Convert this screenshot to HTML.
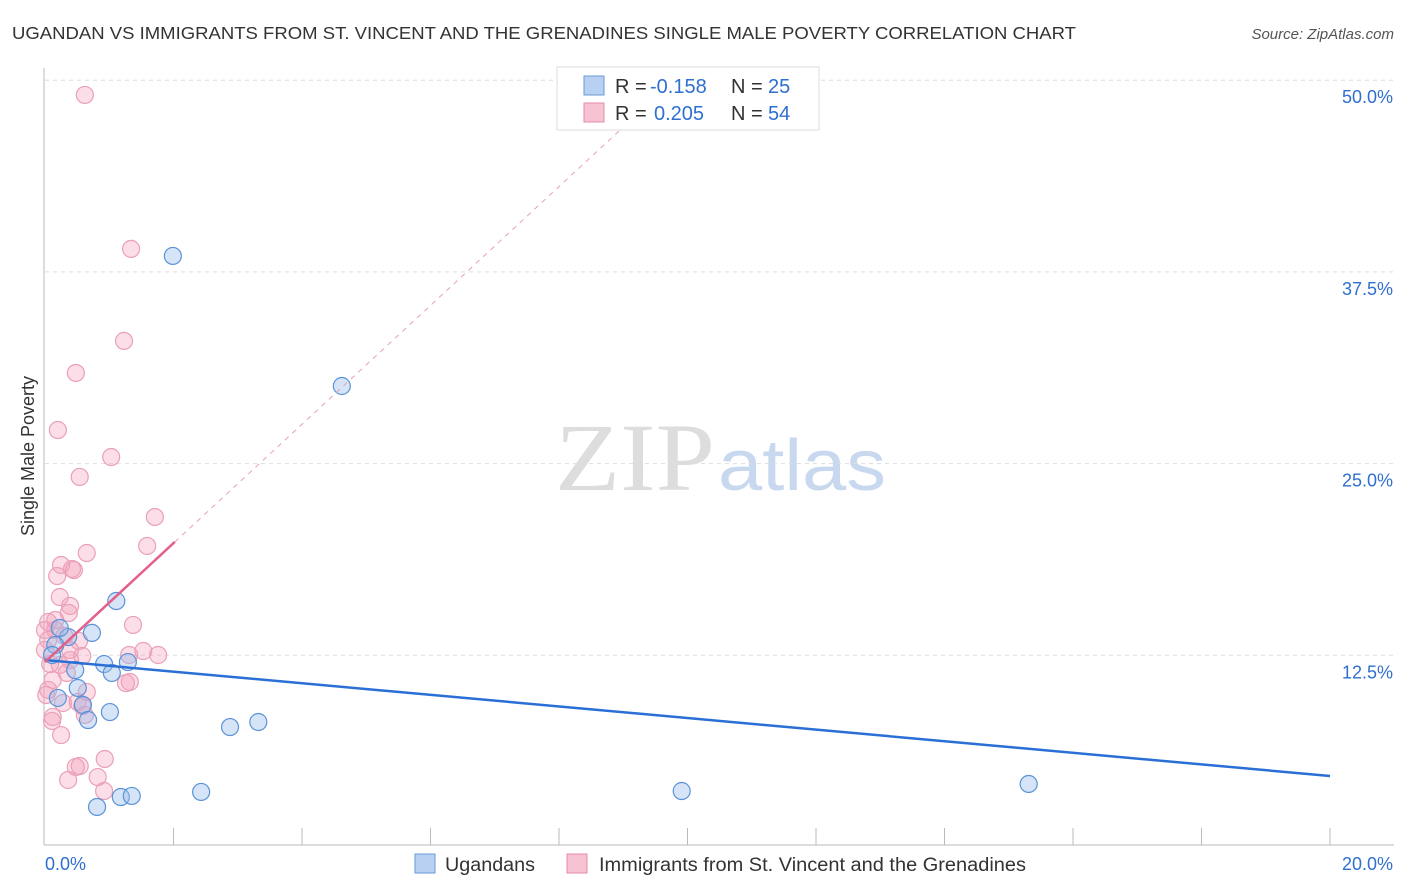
<!DOCTYPE html>
<html><head><meta charset="utf-8"><style>
body{margin:0;background:#fff;font-family:"Liberation Sans",sans-serif}
svg{display:block}
</style></head><body>
<svg id="c" width="1406" height="892" xmlns="http://www.w3.org/2000/svg">
<text x="12" y="39" font-size="17.5" fill="#333" textLength="1064" lengthAdjust="spacingAndGlyphs">UGANDAN VS IMMIGRANTS FROM ST. VINCENT AND THE GRENADINES SINGLE MALE POVERTY CORRELATION CHART</text>
<text x="1394" y="39" font-size="15" fill="#555" font-style="italic" text-anchor="end">Source: ZipAtlas.com</text>
<text x="555" y="490" font-size="96" fill="#ddd" font-family="Liberation Serif,serif" textLength="160" lengthAdjust="spacingAndGlyphs">ZIP</text>
<text x="718" y="490" font-size="72" fill="#c8d8ee" textLength="168" lengthAdjust="spacingAndGlyphs">atlas</text>
<text transform="translate(34,456) rotate(-90)" font-size="18" fill="#333" text-anchor="middle">Single Male Poverty</text>
<g id="grid"></g><g id="marks"></g>
<g>
<rect x="557" y="67" width="262" height="63" fill="#fff" stroke="#ddd"/>
<rect x="584" y="76" width="20" height="19" fill="#b8d0f2" stroke="#6a9ad8"/>
<rect x="584" y="103" width="20" height="19" fill="#f7c3d3" stroke="#e58aa8"/>
<text y="93" font-size="20" fill="#333"><tspan x="615">R =</tspan><tspan x="650" fill="#2f6fd0">-0.158</tspan><tspan x="731">N =</tspan><tspan x="768" fill="#2f6fd0">25</tspan></text>
<text y="120" font-size="20" fill="#333"><tspan x="615">R =</tspan><tspan x="654" fill="#2f6fd0">0.205</tspan><tspan x="731">N =</tspan><tspan x="768" fill="#2f6fd0">54</tspan></text>
</g>
<g>
<rect x="415" y="854" width="20" height="19" fill="#b8d0f2" stroke="#6a9ad8"/>
<text x="445" y="871" font-size="19" fill="#333" textLength="90" lengthAdjust="spacingAndGlyphs">Ugandans</text>
<rect x="567" y="854" width="20" height="19" fill="#f7c3d3" stroke="#e58aa8"/>
<text x="599" y="871" font-size="19" fill="#333" textLength="427" lengthAdjust="spacingAndGlyphs">Immigrants from St. Vincent and the Grenadines</text>
</g>
</svg>
<script>
const yTicks=[12.5,25,37.5,50];
const yTickLabels=["12.5%","25.0%","37.5%","50.0%"];
const xTickLabels=["0.0%","20.0%"];
const blueX=[1.99,4.62,1.11,0.73,0.36,0.16,0.11,0.92,1.29,1.04,0.47,0.51,0.20,0.59,1.01,0.67,2.88,3.32,0.81,1.18,1.35,2.43,9.91,15.31,0.23];
const blueY=[38.54,30.06,16.04,13.96,13.69,13.17,12.52,11.93,12.06,11.35,11.54,10.37,9.72,9.26,8.80,8.28,7.82,8.15,2.61,3.26,3.33,3.59,3.65,4.11,14.28];
const pinkX=[0.62,1.34,1.23,0.48,0.20,0.54,1.03,1.71,1.59,0.65,0.25,0.19,0.45,0.42,0.23,0.39,0.37,1.37,0.05,0.16,0.05,0.30,0.53,0.58,0.39,1.53,1.31,1.76,0.23,0.08,0.34,0.12,0.05,0.65,0.51,0.28,0.58,0.12,0.11,0.25,0.93,0.54,0.48,0.82,0.36,0.92,1.26,1.32,0,0,0.02,0.39,0.16,0.62];
const pinkY=[49.04,39.0,33.0,30.91,27.19,24.13,25.43,21.52,19.63,19.17,18.39,17.67,18.06,18.13,16.30,15.72,15.26,14.48,14.67,14.15,13.50,13.76,13.43,12.46,12.19,12.78,12.52,12.52,11.87,11.93,11.35,10.89,10.24,10.11,9.46,9.39,9.19,8.48,8.22,7.30,5.74,5.28,5.22,4.56,4.37,3.65,10.69,10.76,14.15,12.85,9.91,12.85,14.80,8.61];
const blueTrend=[[0,12.19],[20,4.63]];
const pinkTrend=[[0,12.06],[2.02,19.89]];
const pinkTrendDash=[[2.02,19.89],[9.79,50]];
const X0=45,X1=1330,Y0=847,PPY=191.7/12.5;
const sx=v=>X0+(X1-X0)*v/20, sy=v=>Y0-v*PPY;
const NS="http://www.w3.org/2000/svg";
function mk(t,a,p){const e=document.createElementNS(NS,t);for(const k in a)e.setAttribute(k,a[k]);p.appendChild(e);return e;}
const g=document.getElementById('grid'),m=document.getElementById('marks');
const ax=mk('line',{x1:44,y1:68,x2:44,y2:845,stroke:'#bbb'},g);


const bx=mk('line',{x1:44,y1:845,x2:1394,y2:845,stroke:'#bbb'},g);


for(let i=1;i<=10;i++){const x=X0+i*(X1-X0)/10;const t=mk('line',{x1:x,y1:828,x2:x,y2:845,stroke:'#bbb'},g);

}
yTicks.forEach((v,i)=>{const l=mk('line',{x1:45,y1:sy(v),x2:1394,y2:sy(v),stroke:'#ddd','stroke-dasharray':'4,4'},g);


const t=mk('text',{x:1393,y:sy(v)+23,'font-size':18,fill:'#2f6fd0','text-anchor':'end'},g);t.textContent=yTickLabels[i];

});
[[45,'start'],[1393,'end']].forEach((p,i)=>{const t=mk('text',{x:p[0],y:870,'font-size':18,fill:'#2f6fd0','text-anchor':p[1]},g);t.textContent=xTickLabels[i];

});
pinkX.forEach((x,i)=>{const c=mk('circle',{cx:sx(x),cy:sy(pinkY[i]),r:8.5,fill:'rgba(244,160,186,0.35)',stroke:'#eaa0b8','stroke-width':1.2},m);

});
blueX.forEach((x,i)=>{const c=mk('circle',{cx:sx(x),cy:sy(blueY[i]),r:8.5,fill:'rgba(150,188,235,0.4)',stroke:'#5b93d8','stroke-width':1.2},m);

});
const l1=mk('line',{x1:sx(blueTrend[0][0]),y1:sy(blueTrend[0][1]),x2:sx(blueTrend[1][0]),y2:sy(blueTrend[1][1]),stroke:'#2a6fd6','stroke-width':2.5},m);


const l2=mk('line',{x1:sx(pinkTrend[0][0]),y1:sy(pinkTrend[0][1]),x2:sx(pinkTrend[1][0]),y2:sy(pinkTrend[1][1]),stroke:'#e2608a','stroke-width':2.5},m);


const l3=mk('line',{x1:sx(pinkTrendDash[0][0]),y1:sy(pinkTrendDash[0][1]),x2:sx(pinkTrendDash[1][0]),y2:sy(pinkTrendDash[1][1]),stroke:'#e8a0b8','stroke-width':1,'stroke-dasharray':'5,5'},m);


</script>
</body></html>
